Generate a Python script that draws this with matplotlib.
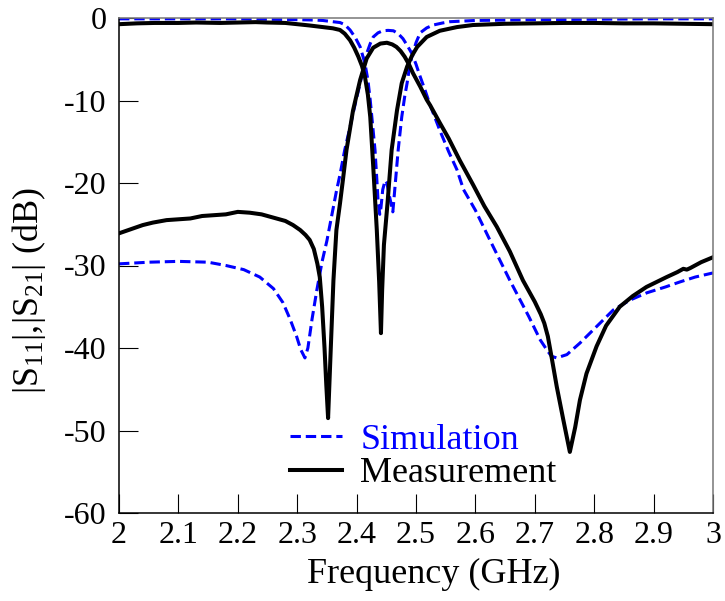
import matplotlib
matplotlib.use("Agg")
import matplotlib.pyplot as plt

plt.rcParams['font.family'] = ['Liberation Serif', 'DejaVu Serif']
plt.rcParams['mathtext.fontset'] = 'custom'
plt.rcParams['mathtext.rm'] = 'Liberation Serif'
plt.rcParams['mathtext.it'] = 'Liberation Serif:italic'
plt.rcParams['axes.unicode_minus'] = False

# simulated |S11|
f_s11_sim = [2.00, 2.10, 2.20, 2.25, 2.30, 2.33, 2.343, 2.36, 2.372, 2.38, 2.389, 2.398,
             2.406, 2.414, 2.419, 2.423, 2.427, 2.431, 2.434, 2.436, 2.439, 2.441,
             2.444, 2.448, 2.451, 2.455, 2.458, 2.461, 2.464, 2.467, 2.470, 2.476,
             2.481, 2.485, 2.489, 2.493, 2.500, 2.507, 2.518, 2.529, 2.545, 2.557,
             2.60, 2.70, 2.80, 2.90, 3.00]
s11_sim = [-0.1, -0.1, -0.1, -0.15, -0.2, -0.25, -0.3, -0.45, -0.55, -0.8, -1.45, -2.4,
           -3.5, -5.5, -7.5, -10.0, -13.0, -16.0, -19.5, -22.0, -23.8, -23.0,
           -20.8, -19.7, -20.0, -21.5, -22.5, -23.5, -21.0, -18.5, -16.0, -12.0,
           -9.5, -7.9, -6.0, -4.7, -3.0, -1.8, -1.2, -0.85, -0.6, -0.45,
           -0.3, -0.2, -0.15, -0.1, -0.1]

# simulated |S21|
f_s21_sim = [2.00, 2.05, 2.10, 2.15, 2.18, 2.21, 2.237, 2.26, 2.276, 2.288, 2.299, 2.306,
             2.313, 2.318, 2.325, 2.333, 2.342, 2.350, 2.358, 2.366, 2.372, 2.380,
             2.389, 2.398, 2.406, 2.412, 2.417, 2.423, 2.428, 2.436, 2.444, 2.453,
             2.462, 2.470, 2.478, 2.485, 2.493, 2.500, 2.507, 2.515, 2.524, 2.540,
             2.555, 2.569, 2.580, 2.600, 2.625, 2.658, 2.690, 2.709, 2.720, 2.728,
             2.737, 2.754, 2.776, 2.804, 2.832, 2.860, 2.889, 2.920, 2.944, 2.970, 3.00]
s21_sim = [-29.8, -29.6, -29.5, -29.6, -30.0, -30.5, -31.4, -32.8, -34.5, -36.5, -38.6, -40.2,
           -41.2, -40.0, -36.5, -33.0, -29.5, -27.0, -24.0, -21.0, -19.0, -16.0,
           -13.2, -10.3, -7.9, -6.0, -4.3, -3.1, -2.3, -1.8, -1.55, -1.5,
           -1.55, -1.9, -2.5, -3.3, -4.3, -5.6, -7.1, -8.7, -10.6, -13.6,
           -16.2, -18.4, -20.8, -23.3, -27.0, -31.8, -36.2, -39.0, -40.2, -41.0,
           -41.2, -40.8, -39.4, -37.4, -35.4, -34.2, -33.3, -32.6, -32.0, -31.4, -30.9]

# measured |S11|
f_s11_meas = [2.00, 2.03, 2.06, 2.10, 2.13, 2.17, 2.20, 2.23, 2.25, 2.28, 2.30, 2.32, 2.343,
              2.360, 2.372, 2.380, 2.389, 2.396, 2.403, 2.409, 2.414, 2.419, 2.423,
              2.428, 2.434, 2.438, 2.441, 2.443, 2.446, 2.452, 2.459, 2.468, 2.476,
              2.485, 2.493, 2.502, 2.518, 2.540, 2.569, 2.596, 2.65, 2.70, 2.75, 2.80,
              2.85, 2.90, 2.95, 3.00]
s11_meas = [-0.75, -0.65, -0.6, -0.6, -0.55, -0.6, -0.55, -0.5, -0.55, -0.6, -0.75, -0.9, -1.1,
            -1.25, -1.45, -1.9, -2.7, -3.6, -4.7, -5.8, -7.1, -9.3, -12.0,
            -18.0, -25.7, -32.0, -38.2, -33.0, -27.5, -22.5, -16.0, -11.2, -7.9,
            -5.9, -4.6, -3.5, -2.3, -1.55, -1.1, -0.85, -0.7, -0.65, -0.6, -0.6,
            -0.65, -0.65, -0.7, -0.75]

# measured |S21|
f_s21_meas = [2.000, 2.020, 2.040, 2.057, 2.080, 2.100, 2.120, 2.140, 2.160, 2.180, 2.200,
              2.220, 2.240, 2.260, 2.280, 2.293, 2.305, 2.314, 2.321, 2.328, 2.334,
              2.338, 2.342, 2.346, 2.349, 2.352, 2.356, 2.361, 2.366, 2.372, 2.377,
              2.383, 2.394, 2.406, 2.417, 2.428, 2.440, 2.451, 2.460, 2.467, 2.474,
              2.481, 2.488, 2.495, 2.507, 2.518, 2.524, 2.540, 2.555, 2.574, 2.596,
              2.615, 2.636, 2.658, 2.680, 2.700, 2.710, 2.716, 2.722, 2.728, 2.737,
              2.748, 2.759, 2.768, 2.776, 2.787, 2.804, 2.820, 2.843, 2.865, 2.888,
              2.905, 2.922, 2.940, 2.950, 2.956, 2.962, 2.980, 3.000]
s21_meas = [-26.1, -25.6, -25.1, -24.8, -24.5, -24.4, -24.3, -24.0, -23.9, -23.8, -23.5,
            -23.6, -23.8, -24.2, -24.6, -25.1, -25.7, -26.3, -26.9, -28.0, -29.8,
            -31.4, -35.0, -40.0, -44.5, -48.5, -41.0, -31.8, -25.7, -22.5, -19.6,
            -16.0, -11.2, -7.5, -4.9, -3.6, -3.1, -3.0, -3.2, -3.5, -4.0,
            -4.7, -5.6, -6.7, -8.3, -9.9, -10.6, -12.7, -14.6, -17.3, -20.2,
            -22.8, -25.3, -28.3, -31.8, -34.4, -35.9, -37.0, -38.6, -41.0, -44.7,
            -48.7, -52.6, -49.6, -46.3, -43.1, -39.8, -37.3, -35.0, -33.7, -32.6,
            -32.0, -31.4, -30.8, -30.4, -30.5, -30.3, -29.6, -29.0]

x_ticks = [2.0, 2.1, 2.2, 2.3, 2.4, 2.5, 2.6, 2.7, 2.8, 2.9, 3.0]
x_tick_labels = ['2', '2.1', '2.2', '2.3', '2.4', '2.5', '2.6', '2.7', '2.8', '2.9', '3']
y_ticks = [0, -10, -20, -30, -40, -50, -60]
y_tick_labels = ['0', '-10', '-20', '-30', '-40', '-50', '-60']

fig = plt.figure(figsize=(7.25, 6.01), dpi=100)
ax = fig.add_axes([119/725, 1 - 513/601, 594/725, 495/601])

ax.plot(f_s11_sim, s11_sim, color='#0000ff', lw=2.2, ls=(0, (3.4, 1.6)), label='Simulation')
ax.plot(f_s21_sim, s21_sim, color='#0000ff', lw=2.2, ls=(0, (3.4, 1.6)))
ax.plot(f_s11_meas, s11_meas, color='black', lw=2.9, label='Measurement')
ax.plot(f_s21_meas, s21_meas, color='black', lw=2.9)

ax.set_xlim(2, 3)
ax.set_ylim(-60, 0)
ax.set_xticks(x_ticks)
ax.set_xticklabels(x_tick_labels)
ax.set_yticks(y_ticks)
ax.set_yticklabels(y_tick_labels)
ax.tick_params(axis='x', direction='in', length=14, width=0.8, labelsize=23, pad=6, top=False)
ax.tick_params(axis='y', direction='in', length=14, width=0.8, labelsize=23, pad=9, right=False)

for s in ['left', 'bottom']:
    ax.spines[s].set_linewidth(1.1)
    ax.spines[s].set_color('black')
for s in ['top', 'right']:
    ax.spines[s].set_linewidth(1.1)
    ax.spines[s].set_color('#777777')

ax.set_xlabel('Frequency (GHz)', fontsize=26)
ax.set_ylabel(r'|S$_{11}$|,|S$_{21}$| (dB)', fontsize=26)
ax.xaxis.set_label_coords(0.53, -0.09)
ax.yaxis.set_label_coords(-0.12, 0.45)

leg = ax.legend(loc='center left', bbox_to_anchor=(0.288, 0.113), frameon=False,
                fontsize=26, handlelength=1.45, handletextpad=0.5, labelspacing=0.0,
                borderpad=0, borderaxespad=0, labelcolor='linecolor')

fig.savefig('out.png', dpi=100)
